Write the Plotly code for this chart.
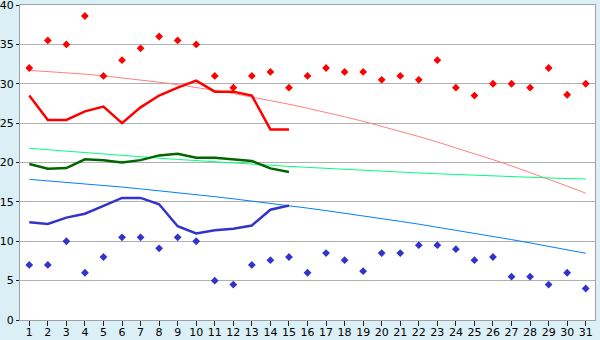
import plotly.graph_objects as go

days = list(range(1, 32))
max_pts = [32, 35.5, 35, 38.6, 31, 33, 34.5, 36, 35.5, 35, 31, 29.5, 31, 31.5, 29.5,
           31, 32, 31.5, 31.5, 30.5, 31, 30.5, 33, 29.5, 28.5, 30, 30, 29.5, 32, 28.6, 30]
min_pts = [7, 7, 10, 6, 8, 10.5, 10.5, 9.1, 10.5, 10, 5, 4.5, 7, 7.6, 8,
           6, 8.5, 7.6, 6.2, 8.5, 8.5, 9.5, 9.5, 9, 7.6, 8, 5.5, 5.5, 4.5, 6, 4]
line_days = list(range(1, 16))
max_line = [28.5, 25.4, 25.4, 26.5, 27.1, 25, 27, 28.5, 29.5, 30.4, 29, 29, 28.5, 24.2, 24.2]
mean_line = [19.8, 19.2, 19.3, 20.4, 20.3, 20, 20.3, 20.9, 21.1, 20.6, 20.6, 20.4, 20.2, 19.25, 18.8]
min_line = [12.4, 12.2, 13.0, 13.5, 14.5, 15.5, 15.5, 14.7, 11.9, 11.0, 11.4, 11.6, 12.0, 14.0, 14.55]
max_trend = [31.70, 31.57, 31.41, 31.22, 31.00, 30.76, 30.49, 30.20, 29.88, 29.54, 29.16,
             28.76, 28.33, 27.88, 27.40, 26.89, 26.37, 25.81, 25.23, 24.61, 23.96, 23.30,
             22.60, 21.88, 21.14, 20.36, 19.57, 18.74, 17.89, 17.01, 16.10]
mean_trend = [21.80, 21.61, 21.42, 21.24, 21.06, 20.89, 20.72, 20.55, 20.39, 20.23, 20.08,
              19.93, 19.78, 19.64, 19.51, 19.38, 19.25, 19.12, 19.00, 18.89, 18.78, 18.67,
              18.57, 18.47, 18.38, 18.29, 18.20, 18.12, 18.04, 17.97, 17.90]
min_trend = [17.86, 17.68, 17.49, 17.30, 17.09, 16.88, 16.65, 16.42, 16.17, 15.92, 15.66,
             15.39, 15.11, 14.82, 14.52, 14.21, 13.89, 13.57, 13.23, 12.88, 12.53, 12.17,
             11.79, 11.41, 11.02, 10.62, 10.21, 9.79, 9.36, 8.92, 8.47]
y_ticks = [0, 5, 10, 15, 20, 25, 30, 35, 40]

fig = go.Figure()
fig.add_trace(go.Scatter(x=days, y=max_trend, mode="lines", line=dict(color="#FF8080", width=1)))
fig.add_trace(go.Scatter(x=days, y=mean_trend, mode="lines", line=dict(color="#00FF80", width=1)))
fig.add_trace(go.Scatter(x=days, y=min_trend, mode="lines", line=dict(color="#0080FF", width=1)))
fig.add_trace(go.Scatter(x=line_days, y=max_line, mode="lines", line=dict(color="#FF0000", width=2.5)))
fig.add_trace(go.Scatter(x=line_days, y=mean_line, mode="lines", line=dict(color="#006600", width=2.5)))
fig.add_trace(go.Scatter(x=line_days, y=min_line, mode="lines", line=dict(color="#3333CC", width=2.5)))
fig.add_trace(go.Scatter(x=days, y=max_pts, mode="markers",
                         marker=dict(symbol="diamond", size=6, color="#FF0000")))
fig.add_trace(go.Scatter(x=days, y=min_pts, mode="markers",
                         marker=dict(symbol="diamond", size=6, color="#3333CC")))

fig.update_layout(
    width=600, height=340,
    margin=dict(l=20, r=5, t=5, b=20),
    paper_bgcolor="#DAF0F6", plot_bgcolor="#FFFFFF",
    showlegend=False,
    font=dict(family="DejaVu Sans", size=11, color="#000000"),
)
fig.update_xaxes(range=[0.5, 31.5], tickmode="array", tickvals=days, ticktext=[str(d) for d in days],
                 showgrid=False, zeroline=False, showline=True, linecolor="#A0A0A0", linewidth=1,
                 mirror=True, ticks="outside", ticklen=5, tickcolor="#202020",
                 tickfont=dict(size=11), ticklabelstandoff=-3, ticklabeloverflow="allow",
                 automargin=False)
fig.update_yaxes(range=[0, 40], tickmode="array", tickvals=y_ticks, ticktext=[str(v) for v in y_ticks],
                 showgrid=True, gridcolor="#B0B0B0", gridwidth=1, zeroline=False,
                 showline=True, linecolor="#A0A0A0", linewidth=1, mirror=True,
                 ticks="outside", ticklen=3, tickcolor="#202020", tickfont=dict(size=11),
                 ticklabelstandoff=0, ticklabeloverflow="allow", automargin=False)

fig.write_html("out.html")
